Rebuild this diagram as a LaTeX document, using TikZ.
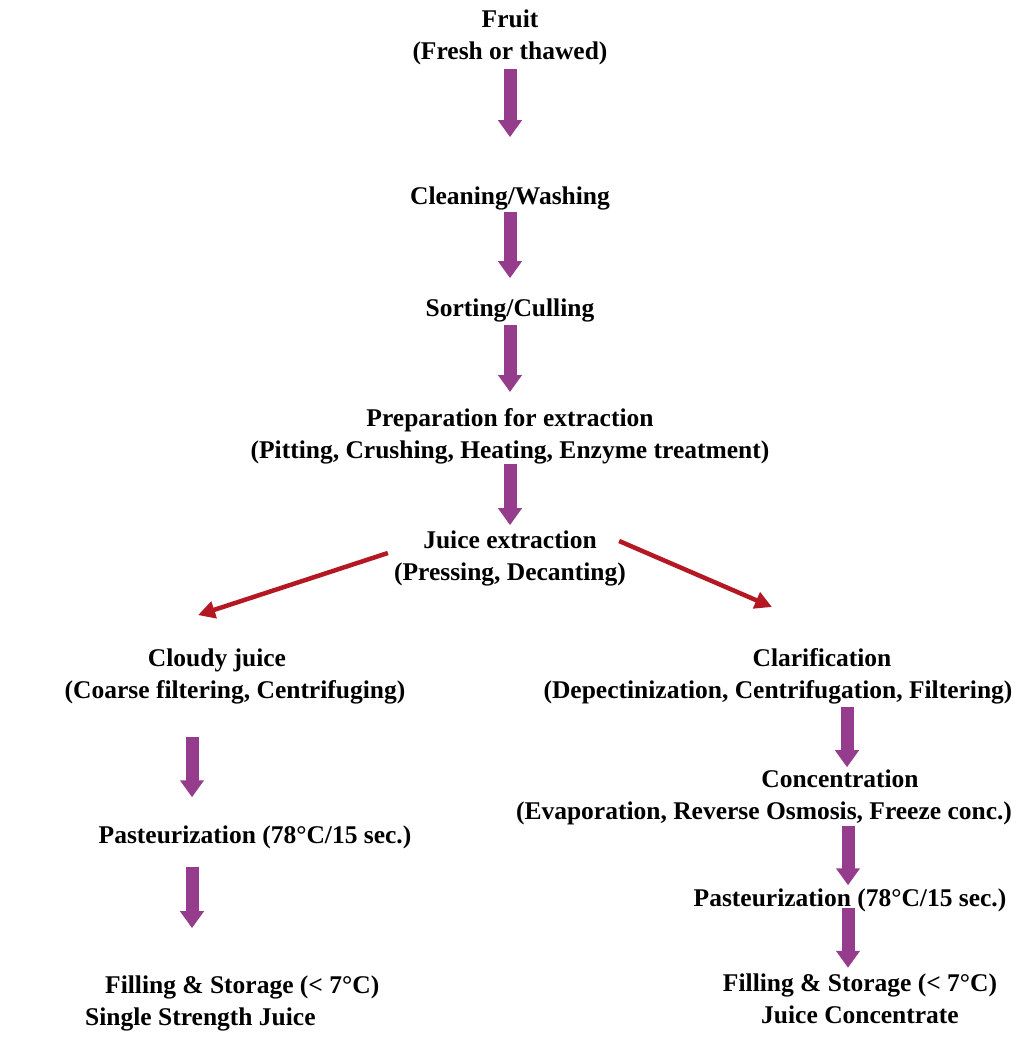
\documentclass[tikz,border=0pt]{standalone}
\usepackage{fontspec}
\setmainfont{Liberation Serif}
\usetikzlibrary{arrows.meta,positioning}
\definecolor{flowpurple}{RGB}{150,60,140}
\definecolor{splitred}{RGB}{180,25,35}

\begin{document}
\begin{tikzpicture}[x=1pt, y=-1pt,
    every node/.style={font=\bfseries\fontsize{25.5}{32}\selectfont, align=center, inner sep=0pt},
    fatarrow/.style={flowpurple, line width=13pt, -{Triangle[width=23pt,length=17pt]}},
    splitarrow/.style={splitred, line width=4.5pt, -{Triangle[width=17pt,length=17pt]}}]

\useasboundingbox (0,0) rectangle (1016,1050);

% Main column
\node (fruit) at (510,37) {Fruit\\(Fresh or thawed)};
\node (clean) at (510,198) {Cleaning/Washing};
\node (sort) at (510,310) {Sorting/Culling};
\node (prep) at (510,436) {Preparation for extraction\\(Pitting, Crushing, Heating, Enzyme treatment)};
\node (juice) at (510,558) {Juice extraction\\(Pressing, Decanting)};

\draw[fatarrow, shorten <=4pt, shorten >=49pt] (fruit) -- (clean);
\draw[fatarrow, shorten <=2pt, shorten >=20pt] (clean) -- (sort);
\draw[fatarrow, shorten <=3pt, shorten >=16pt] (sort) -- (prep);
\draw[fatarrow, shorten >=5pt] (prep) -- (juice);

% Cloudy juice branch
\node (cloudy) at (235,676) {Cloudy juice\hspace*{36pt}\\(Coarse filtering, Centrifuging)};
\node (lpast) at (255,837) {Pasteurization (78°C/15 sec.)};
\node[anchor=west, align=left] (lfill) at (85,1003) {\hspace*{20pt}Filling \& Storage (< 7°C)\\Single Strength Juice};

\draw[fatarrow, shorten <=33pt, shorten >=28pt] ([xshift=-43pt]cloudy.south) -- ([xshift=-43pt]cloudy.south |- lpast.north);
\draw[fatarrow, shorten <=18pt, shorten >=47pt] ([xshift=-63pt]lpast.south) -- ([xshift=-63pt]lpast.south |- lfill.north);

% Clarified juice branch
\node (clar) at (778,676) {\hspace*{88pt}Clarification\\(Depectinization, Centrifugation, Filtering)};
\node (conc) at (764,797) {\hspace*{152pt}Concentration\\(Evaporation, Reverse Osmosis, Freeze conc.)};
\node (rpast) at (850,900) {Pasteurization (78°C/15 sec.)};
\node (rfill) at (860,999) {Filling \& Storage (< 7°C)\\Juice Concentrate};

\draw[fatarrow, shorten <=3pt, shorten >=2pt] ([xshift=69pt]clar.south) -- ([xshift=69pt]clar.south |- conc.north);
\draw[fatarrow, shorten <=1pt, shorten >=3pt] ([xshift=-2pt]rpast.north |- conc.south) -- ([xshift=-2pt]rpast.north);
\draw[fatarrow, shorten <=-4pt, shorten >=6pt] ([xshift=-2pt]rpast.south) -- ([xshift=-2pt]rpast.south |- rfill.north);

% Split after extraction
\draw[splitarrow] ([xshift=-6pt, yshift=5pt]juice.west) -- ([xshift=-37pt, yshift=33pt]cloudy.north);
\draw[splitarrow] ([xshift=-7pt, yshift=17pt]juice.east) -- ([xshift=-6pt, yshift=41pt]clar.north);

\end{tikzpicture}
\end{document}
